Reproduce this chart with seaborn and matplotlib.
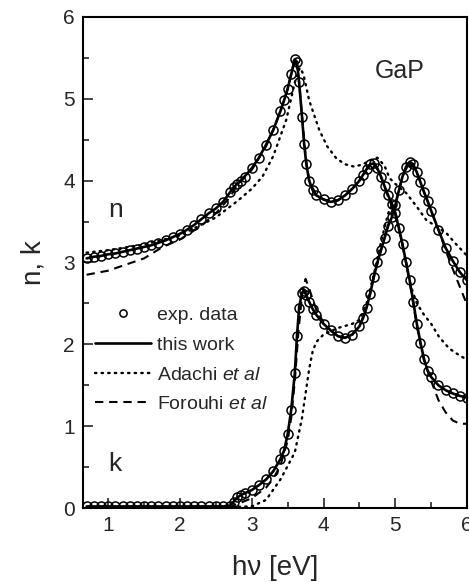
import numpy as np
import pandas as pd
import seaborn as sns
import matplotlib.pyplot as plt
from matplotlib.ticker import MultipleLocator

# photon energy [eV] and measured optical constants of GaP
energy = [0.70, 0.80, 0.90, 1.00, 1.10, 1.20, 1.30, 1.40, 1.50, 1.60,
          1.70, 1.80, 1.90, 2.00, 2.10, 2.20, 2.30, 2.40, 2.50, 2.60,
          2.70, 2.75, 2.80, 2.85, 2.90, 3.00, 3.10, 3.20, 3.30, 3.40,
          3.45, 3.50, 3.55, 3.60, 3.63, 3.66, 3.70, 3.73, 3.76, 3.80,
          3.85, 3.90, 4.00, 4.10, 4.20, 4.30, 4.40, 4.50, 4.55, 4.60,
          4.65, 4.70, 4.75, 4.80, 4.85, 4.90, 4.95, 5.00, 5.05, 5.10,
          5.15, 5.20, 5.25, 5.30, 5.35, 5.40, 5.45, 5.50, 5.60, 5.70,
          5.80, 5.90, 6.00]
n_exp = [3.05, 3.07, 3.08, 3.10, 3.11, 3.13, 3.15, 3.17, 3.19, 3.21,
         3.24, 3.27, 3.31, 3.35, 3.40, 3.46, 3.53, 3.60, 3.66, 3.74,
         3.86, 3.92, 3.96, 4.00, 4.05, 4.15, 4.28, 4.44, 4.62, 4.85,
         4.98, 5.12, 5.30, 5.48, 5.45, 5.20, 4.78, 4.45, 4.20, 4.00,
         3.88, 3.82, 3.77, 3.74, 3.76, 3.82, 3.90, 4.00, 4.07, 4.14,
         4.20, 4.21, 4.15, 4.05, 3.93, 3.82, 3.72, 3.60, 3.42, 3.22,
         3.00, 2.78, 2.52, 2.25, 2.02, 1.82, 1.68, 1.60, 1.50, 1.44,
         1.40, 1.37, 1.35]
k_exp = [0.02, 0.02, 0.02, 0.02, 0.02, 0.02, 0.02, 0.02, 0.02, 0.02,
         0.02, 0.02, 0.02, 0.02, 0.02, 0.02, 0.02, 0.02, 0.02, 0.02,
         0.03, 0.08, 0.13, 0.16, 0.18, 0.22, 0.28, 0.35, 0.45, 0.60,
         0.70, 0.90, 1.20, 1.65, 2.10, 2.45, 2.63, 2.65, 2.60, 2.52,
         2.43, 2.36, 2.25, 2.17, 2.10, 2.08, 2.12, 2.22, 2.32, 2.45,
         2.62, 2.82, 3.00, 3.15, 3.30, 3.45, 3.55, 3.70, 3.88, 4.05,
         4.17, 4.23, 4.20, 4.10, 3.98, 3.86, 3.75, 3.63, 3.40, 3.18,
         3.02, 2.88, 2.78]
# this work: the fit lies on the data
n_fit = n_exp
k_fit = k_exp

# Adachi et al
adachi_e_n = [0.70, 1.00, 1.50, 2.00, 2.50, 2.80, 3.00, 3.15, 3.30, 3.48,
              3.60, 3.67, 3.72, 3.80, 3.94, 4.05, 4.18, 4.30, 4.43, 4.55,
              4.65, 4.75, 4.85, 4.92, 5.00, 5.15, 5.30, 5.43, 5.57, 5.71,
              5.85, 6.00]
adachi_n = [3.12, 3.15, 3.22, 3.33, 3.55, 3.75, 3.90, 4.05, 4.30, 4.74,
            5.20, 5.38, 5.30, 4.98, 4.62, 4.42, 4.27, 4.20, 4.17, 4.20,
            4.25, 4.28, 4.18, 4.03, 3.96, 3.85, 3.68, 3.52, 3.44, 3.36,
            3.22, 3.08]
adachi_e_k = [0.70, 2.00, 3.00, 3.20, 3.40, 3.60, 3.70, 3.75, 3.80, 3.85,
              3.90, 4.00, 4.20, 4.40, 4.50, 4.60, 4.70, 4.80, 4.90, 4.97,
              5.05, 5.15, 5.22, 5.30, 5.40, 5.50, 5.61, 5.75, 5.85, 6.00]
adachi_k = [0.00, 0.00, 0.02, 0.10, 0.35, 0.68, 1.10, 1.40, 1.70, 1.92,
            2.03, 2.12, 2.20, 2.25, 2.30, 2.50, 2.85, 3.25, 3.60, 3.72,
            3.42, 3.00, 2.70, 2.50, 2.36, 2.25, 2.09, 1.95, 1.89, 1.81]

# Forouhi et al
forouhi_e = [0.70, 1.00, 1.50, 1.76, 2.00, 2.30, 2.50, 2.70, 2.80, 3.00,
             3.20, 3.30, 3.40, 3.50, 3.55, 3.60, 3.65, 3.70, 3.75, 3.80,
             3.90, 4.00, 4.10, 4.20, 4.30, 4.40, 4.50, 4.60, 4.70, 4.80,
             4.90, 5.00, 5.10, 5.20, 5.30, 5.40, 5.50, 5.60, 5.70, 5.80,
             5.90, 6.00]
forouhi_n = [2.85, 2.90, 3.05, 3.19, 3.28, 3.45, 3.60, 3.80, 3.95, 4.13,
             4.42, 4.62, 4.85, 5.12, 5.30, 5.50, 5.30, 4.80, 4.30, 4.00,
             3.82, 3.77, 3.74, 3.76, 3.82, 3.90, 4.00, 4.14, 4.22, 4.05,
             3.80, 3.58, 3.22, 2.76, 2.22, 1.80, 1.55, 1.32, 1.17, 1.07,
             1.03, 1.03]
forouhi_k = [0.00, 0.00, 0.00, 0.00, 0.00, 0.00, 0.00, 0.02, 0.05, 0.12,
             0.25, 0.36, 0.52, 0.82, 1.10, 1.55, 2.15, 2.60, 2.80, 2.68,
             2.42, 2.27, 2.17, 2.10, 2.08, 2.12, 2.22, 2.45, 2.82, 3.15,
             3.45, 3.72, 4.05, 4.23, 4.10, 3.86, 3.63, 3.40, 3.15, 2.92,
             2.70, 2.48]

sns.set_style('ticks')
plt.rcParams['font.family'] = ['Liberation Sans', 'DejaVu Sans']
plt.rcParams['mathtext.fontset'] = 'custom'
plt.rcParams['mathtext.rm'] = 'Liberation Sans'
plt.rcParams['mathtext.it'] = 'Liberation Sans:italic'

fig = plt.figure(figsize=(4.69, 5.82), dpi=100)
ax = fig.add_axes([0.177, 0.127, 0.819, 0.844])

exp_df = pd.DataFrame({'E': energy, 'n': n_exp, 'k': k_exp})

# exp. data (open circles)
for col in ['n', 'k']:
    ax.plot(exp_df['E'], exp_df[col], 'o', ms=6.5, mfc='none', mec='black',
            mew=1.1, zorder=3, label='exp. data' if col == 'n' else None)

# this work
sns.lineplot(x=energy, y=n_fit, color='black', lw=1.9, sort=False,
             estimator=None, ax=ax, label='this work')
sns.lineplot(x=energy, y=k_fit, color='black', lw=1.9, sort=False,
             estimator=None, ax=ax)

# Adachi
sns.lineplot(x=adachi_e_n, y=adachi_n, color='black', lw=1.7, sort=False,
             estimator=None, ax=ax, label='Adachi $\\mathit{et\\ al}$',
             linestyle=(0, (0.6, 2.2)), dash_capstyle='round')
sns.lineplot(x=adachi_e_k, y=adachi_k, color='black', lw=1.7, sort=False,
             estimator=None, ax=ax,
             linestyle=(0, (0.6, 2.2)), dash_capstyle='round')

# Forouhi
sns.lineplot(x=forouhi_e, y=forouhi_n, color='black', lw=1.5, sort=False,
             estimator=None, ax=ax, label='Forouhi $\\mathit{et\\ al}$',
             linestyle=(0, (4, 2.8)))
sns.lineplot(x=forouhi_e, y=forouhi_k, color='black', lw=1.5, sort=False,
             estimator=None, ax=ax, linestyle=(0, (4, 2.8)))

ax.set_xlim(0.65, 6.0)
ax.set_ylim(0, 6)
ax.xaxis.set_major_locator(MultipleLocator(1))
ax.xaxis.set_minor_locator(MultipleLocator(0.5))
ax.yaxis.set_major_locator(MultipleLocator(1))
ax.yaxis.set_minor_locator(MultipleLocator(0.5))
ax.tick_params(which='both', direction='in', top=False, right=False,
               labelsize=15, width=1.2)
ax.tick_params(which='major', length=7, pad=6)
ax.tick_params(which='minor', length=4)
for s in ax.spines.values():
    s.set_linewidth(1.5)
    s.set_color('black')

ax.set_xlabel('h\u03bd [eV]', fontsize=20, labelpad=14)
ax.set_ylabel('n, k', fontsize=20, labelpad=12)

ax.text(1.1, 3.55, 'n', fontsize=19, ha='center', va='baseline')
ax.text(1.1, 0.45, 'k', fontsize=19, ha='center', va='baseline')
ax.text(5.06, 5.25, 'GaP', fontsize=18, ha='center', va='baseline')

leg = ax.legend(loc='upper left', bbox_to_anchor=(0.03, 0.41),
                frameon=False, fontsize=14, handlelength=2.9,
                handletextpad=0.3, labelspacing=0.62, borderaxespad=0,
                borderpad=0, markerscale=0.8)

fig.savefig('out.png', dpi=100)
